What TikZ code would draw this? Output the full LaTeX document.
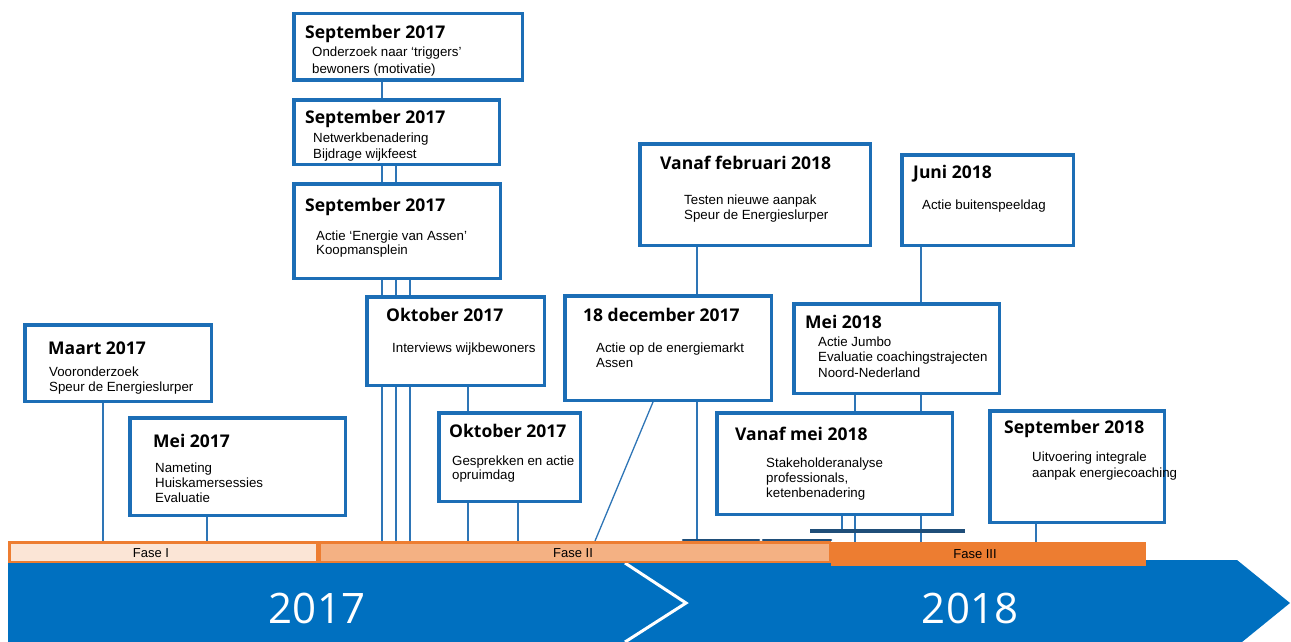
\documentclass[tikz,border=0pt]{standalone}
\usepackage{fontspec}
\setmainfont{Liberation Sans}
\newfontfamily\headfont{Open Sans}
\usetikzlibrary{backgrounds}
\definecolor{boxblue}{RGB}{28,110,182}
\definecolor{linkblue}{RGB}{46,117,182}
\definecolor{bandblue}{RGB}{0,112,192}
\definecolor{navy}{RGB}{31,78,121}
\definecolor{faseorange}{RGB}{237,125,49}
\definecolor{faselight}{RGB}{251,229,214}
\definecolor{fasemid}{RGB}{244,177,131}

\begin{document}
\begin{tikzpicture}[x=1pt, y=-1pt,
  evbox/.style={draw=boxblue, line width=3.5pt, fill=white, inner sep=0pt, anchor=north west},
  evtitle/.style={font=\headfont\bfseries\fontsize{17.5}{20}\selectfont, anchor=base west, inner sep=0pt},
  evtext/.style={font=\fontsize{13.3}{15.5}\selectfont, align=left, anchor=base west, inner sep=0pt},
  link/.style={draw=linkblue, line width=1.3pt},
  fasebar/.style={draw=faseorange, line width=2.5pt, inner sep=0pt, anchor=north west},
  fasetext/.style={font=\fontsize{13}{15}\selectfont, inner sep=0pt},
  yeartext/.style={font=\headfont\fontsize{42}{46}\selectfont, text=white, inner sep=0pt}]

  \useasboundingbox (0,0) rectangle (1291,642);

  % Year band
  \fill[bandblue] (8,560) -- (1237,560) -- (1290,603) -- (1242,642) -- (8,642) -- cycle;
  \draw[white, line width=3pt] (625,563) -- (686,603) -- (625,642);
  \node[yeartext] (y2017) at (317,608) {2017};
  \node[yeartext] (y2018) at (970,608) {2018};

  % Phases
  \node[fasebar, fill=faselight, minimum width=307.5, minimum height=19.5] (fase1) at (8,541) {};
  \node[fasebar, fill=fasemid, minimum width=510.5, minimum height=19.5] (fase2) at (318,541) {};
  \node[fasebar, fill=faseorange, minimum width=312.5, minimum height=21.5] (fase3) at (831,542) {};
  \node[fasetext] (fase1-t) at (151,553) {Fase I};
  \node[fasetext] (fase2-t) at (573,553) {Fase II};
  \node[fasetext] (fase3-t) at (975,554) {Fase III};
  \draw[navy, line width=2.5pt, line cap=round] (683,540) -- (759,540);
  \draw[navy, line width=2.5pt, line cap=round] (763,540) -- (831,540);
  \node[fill=navy, inner sep=0pt, minimum width=155, minimum height=4, anchor=west] (navybar) at (810,531) {};

  % Maart 2017
  \node[evbox, minimum width=186.5, minimum height=76.5] (maa17) at (23,323) {};
  \node[evtitle] (maa17-t) at (48,354) {Maart 2017};
  \node[evtext] (maa17-b) at (49,391.5) {Vooronderzoek\\Speur de Energieslurper};

  % Mei 2017
  \node[evbox, minimum width=215.5, minimum height=97.5] (mei17) at (128,416) {};
  \node[evtitle] (mei17-t) at (153,447) {Mei 2017};
  \node[evtext, font=\fontsize{13.3}{15}\selectfont] (mei17-b) at (155,502) {Nameting\\Huiskamersessies\\Evaluatie};

  % September 2017 (three boxes)
  \node[evbox, minimum width=228.5, minimum height=66.5] (sep17a) at (292,12) {};
  \node[evtitle] (sep17a-t) at (305,39) {September 2017};
  \node[evtext, font=\fontsize{13.3}{16.5}\selectfont] (sep17a-b) at (312,73.5) {Onderzoek naar ‘triggers’\\bewoners (motivatie)};

  \node[evbox, minimum width=205.5, minimum height=64.5] (sep17b) at (292,98) {};
  \node[evtitle] (sep17b-t) at (305,124) {September 2017};
  \node[evtext, font=\fontsize{13.3}{16}\selectfont] (sep17b-b) at (313,158) {Netwerkbenadering\\Bijdrage wijkfeest};

  \node[evbox, minimum width=206.5, minimum height=94.5] (sep17c) at (292,182) {};
  \node[evtitle] (sep17c-t) at (305,211) {September 2017};
  \node[evtext, font=\fontsize{13.3}{14}\selectfont] (sep17c-b) at (316,254) {Actie ‘Energie van Assen’\\Koopmansplein};

  % Oktober 2017 (two boxes)
  \node[evbox, minimum width=177.5, minimum height=88.5] (okt17a) at (365,295) {};
  \node[evtitle] (okt17a-t) at (386,321) {Oktober 2017};
  \node[evtext] (okt17a-b) at (392,352) {Interviews wijkbewoners};

  \node[evbox, minimum width=141.5, minimum height=88.5] (okt17b) at (437,411) {};
  \node[evtitle] (okt17b-t) at (449,437) {Oktober 2017};
  \node[evtext, font=\fontsize{13.3}{14.5}\selectfont] (okt17b-b) at (452,479.5) {Gesprekken en actie\\opruimdag};

  % 18 december 2017
  \node[evbox, minimum width=206.5, minimum height=104.5] (dec17) at (563,294) {};
  \node[evtitle] (dec17-t) at (583,321) {18 december 2017};
  \node[evtext, font=\fontsize{13.3}{15}\selectfont] (dec17-b) at (596,367) {Actie op de energiemarkt\\Assen};

  % Vanaf februari 2018
  \node[evbox, minimum width=230.5, minimum height=101.5] (feb18) at (638,142) {};
  \node[evtitle] (feb18-t) at (660,169) {Vanaf februari 2018};
  \node[evtext, font=\fontsize{13.3}{15}\selectfont] (feb18-b) at (684,219) {Testen nieuwe aanpak\\Speur de Energieslurper};

  % Juni 2018
  \node[evbox, minimum width=171.5, minimum height=90.5] (jun18) at (900,153) {};
  \node[evtitle] (jun18-t) at (913,178) {Juni 2018};
  \node[evtext] (jun18-b) at (922,209) {Actie buitenspeeldag};

  % Mei 2018
  \node[evbox, minimum width=205.5, minimum height=89.5] (mei18) at (792,302) {};
  \node[evtitle] (mei18-t) at (805,328) {Mei 2018};
  \node[evtext] (mei18-b) at (818,377) {Actie Jumbo\\Evaluatie coachingstrajecten\\Noord-Nederland};

  % Vanaf mei 2018
  \node[evbox, minimum width=235.5, minimum height=101.5] (vmei18) at (715,411) {};
  \node[evtitle] (vmei18-t) at (735,440) {Vanaf mei 2018};
  \node[evtext, font=\fontsize{13.3}{15}\selectfont] (vmei18-b) at (766,497) {Stakeholderanalyse\\professionals,\\ketenbenadering};

  % September 2018
  \node[evbox, minimum width=174.5, minimum height=111.5] (sep18) at (988,409) {};
  \node[evtitle] (sep18-t) at (1004,433) {September 2018};
  \node[evtext, font=\fontsize{13.3}{16}\selectfont] (sep18-b) at (1032,477) {Uitvoering integrale\\aanpak energiecoaching};

  % Connectors to the phase bar
  \begin{scope}[on background layer]
    \draw[link] (maa17.south -| 103,0) -- (fase1.north -| 103,0);
    \draw[link] (mei17.south -| 207,0) -- (fase1.north -| 207,0);
    \draw[link] (sep17a.south -| 382,0) -- (fase2.north -| 382,0);
    \draw[link] (sep17b.south -| 396,0) -- (fase2.north -| 396,0);
    \draw[link] (sep17c.south -| 410,0) -- (fase2.north -| 410,0);
    \draw[link] (okt17a.south -| 468,0) -- (fase2.north -| 468,0);
    \draw[link] (okt17b.south -| 518,0) -- (fase2.north -| 518,0);
    \draw[link] (dec17.south -| 653,0) -- (fase2.north -| 595,0);
    \draw[link] (feb18.south -| 697,0) -- (fase2.north -| 697,0);
    \draw[link] (jun18.south -| 921,0) -- (fase3.north -| 921,0);
    \draw[link] (mei18.south -| 855,0) -- (fase3.north -| 855,0);
    \draw[link] (vmei18.south -| 842,0) -- (navybar.north -| 842,0);
    \draw[link] (sep18.south -| 1036,0) -- (fase3.north -| 1036,0);
  \end{scope}

\end{tikzpicture}
\end{document}
